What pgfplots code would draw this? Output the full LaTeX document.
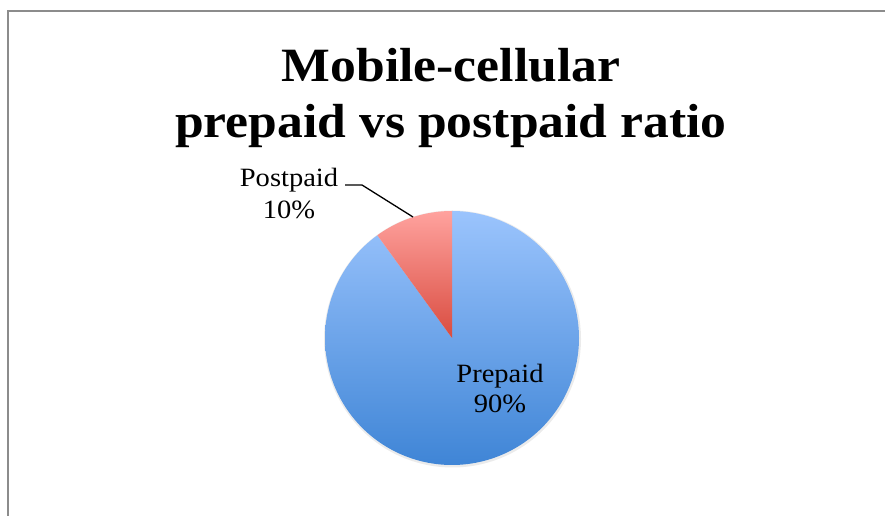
\documentclass[border=0pt]{standalone}
\usepackage{fontspec}
\setmainfont{Liberation Serif}[FakeStretch=1.08]
\usepackage{pgfplots}
\pgfplotsset{compat=1.18}
\definecolor{blueTop}{HTML}{9BC4FD}
\definecolor{blueBot}{HTML}{3F85D6}
\definecolor{redTop}{HTML}{FFA29E}
\definecolor{redBot}{HTML}{D94C40}
\definecolor{frameGray}{HTML}{8C8C8C}
\begin{document}
\begin{tikzpicture}
\def\prepaid{90}
\def\postpaid{10}
\pgfmathsetmacro{\startA}{90}
\pgfmathsetmacro{\midA}{90+3.6*\postpaid}
\pgfmathsetmacro{\endA}{\midA+3.6*\prepaid}
\begin{axis}[at={(0,0)}, anchor=south west, width=885bp, height=516bp, scale only axis,
  xmin=0, xmax=885, ymin=0, ymax=516, axis lines=none, ticks=none, clip=false]
% faint shadow
\addplot[draw=none, fill=black, fill opacity=0.08, domain=0:360, samples=181]
  ({452.5+128.5*cos(x)}, {177+128.5*sin(x)}) -- cycle;
% Prepaid 90%
\addplot[draw=none, top color=blueTop, bottom color=blueBot, domain=\midA:\endA, samples=181]
  ({452+127*cos(x)}, {178+127*sin(x)}) -- (axis cs:452,178) -- cycle;
% Postpaid 10%
\addplot[draw=none, top color=redTop, bottom color=redBot, domain=\startA:\midA, samples=31]
  ({452+127*cos(x)}, {178+127*sin(x)}) -- (axis cs:452,178) -- cycle;
% frame
\draw[frameGray, line width=2bp] (axis cs:7.5,0) -- (axis cs:7.5,504.5) -- (axis cs:885,504.5);
% title
\node[anchor=base, font=\bfseries\fontsize{48}{56}\selectfont] at (axis cs:451,434) {Mobile-cellular};
\node[anchor=base, font=\bfseries\fontsize{48}{56}\selectfont] at (axis cs:451,378) {prepaid vs postpaid ratio};
% labels
\node[anchor=base, font=\fontsize{26.5}{31}\selectfont] at (axis cs:289,329) {Postpaid};
\node[anchor=base, font=\fontsize{26.5}{31}\selectfont] at (axis cs:289,297) {10\%};
\node[anchor=base, font=\fontsize{26.5}{31}\selectfont] at (axis cs:500,133) {Prepaid};
\node[anchor=base, font=\fontsize{26.5}{31}\selectfont] at (axis cs:500,103) {90\%};
% leader line
\draw[black, line width=1.3bp] (axis cs:345,331) -- (axis cs:362,331) -- (axis cs:413,299);
\coordinate (LL) at (axis cs:0,0);
\coordinate (UR) at (axis cs:885,516);
\end{axis}
\pgfresetboundingbox
\useasboundingbox (LL) rectangle (UR);
\end{tikzpicture}
\end{document}
